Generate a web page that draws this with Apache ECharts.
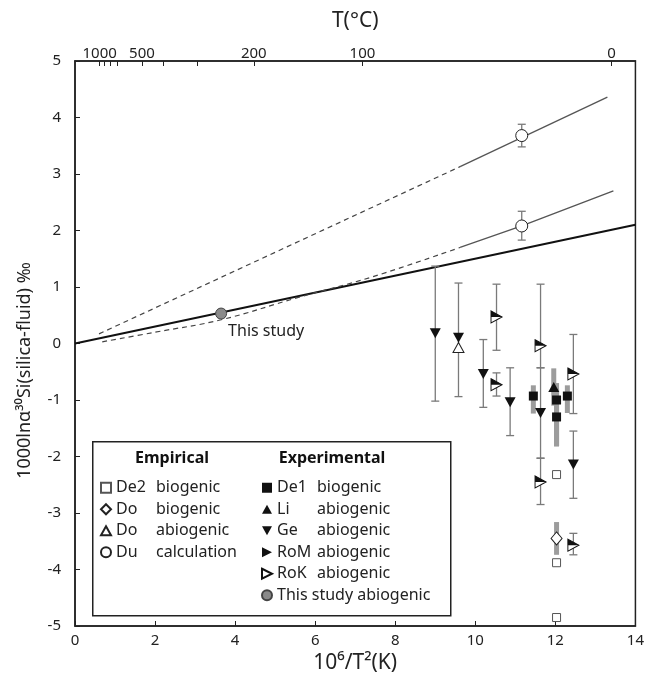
<!DOCTYPE html>
<html>
<head>
<meta charset="utf-8">
<script src="https://cdn.jsdelivr.net/npm/echarts@6/dist/echarts.min.js"></script>
<style>
html,body{margin:0;padding:0;background:#fff;}
#chart{width:647px;height:680px;}
</style>
</head>
<body>
<div id="chart"></div>
<script>
// ---- axis ticks ----
const xTicks = [0, 2, 4, 6, 8, 10, 12, 14];
const yTicks = [-5, -4, -3, -2, -1, 0, 1, 2, 3, 4, 5];
const topTempTicks = [1000, 900, 800, 700, 500, 400, 300, 200, 100, 0];   // °C
const topTempLabels = [1000, 500, 200, 100, 0];                           // °C

// ---- model lines [x, y] ----
const studyLine = [[0, 0], [14, 2.1]];
const upperDashed = [[0.6, 0.17], [9.62, 3.13]];
const upperSolid = [[9.62, 3.13], [13.3, 4.36]];
const lowerDashed = [[0.68, 0.03], [2.0, 0.2], [3.65, 0.42], [5.6, 0.82], [7.43, 1.18], [9.62, 1.7]];
const lowerSolid = [[9.62, 1.7], [11.16, 2.08], [13.45, 2.7]];

// ---- data points [x, y, barTop, barBottom] ----
const de2Bio = [[12.03, -2.32], [12.03, -3.88], [12.03, -4.85]];
const doBio = [[12.03, -3.45, -3.16, -3.74]];
const doAbio = [[9.58, 0.0]];
const duCalc = [[11.16, 3.68, 3.88, 3.48], [11.16, 2.08, 2.34, 1.83]];
const de1Bio = [[11.45, -0.93, -0.74, -1.24], [12.03, -1.0, -0.7, -1.82], [12.03, -1.3, -0.8, -1.82], [12.3, -0.93, -0.74, -1.23]];
const liAbio = [[11.96, -0.77, -0.44, -1.1]];
const geAbio = [[9.0, 0.18, 1.37, -1.02], [9.58, 0.1, 1.07, -0.94], [10.2, -0.54, 0.07, -1.13], [10.87, -1.04, -0.43, -1.63], [11.63, -1.23, -0.43, -2.03], [12.45, -2.14, -1.55, -2.74]];
const roAbio = [[10.53, 0.47, 1.05, -0.12], [10.53, -0.73, -0.52, -0.93], [11.63, -0.04, 1.05, -0.43], [11.63, -2.45, -2.03, -2.85], [12.45, -0.54, 0.16, -1.24], [12.45, -3.57, -3.36, -3.74]];
const thisStudy = [[3.65, 0.53, 0.6, 0.46]];

const FONT = 'Noto Sans';
const toX = t => 1e6 / Math.pow(t + 273.15, 2);

const chart = echarts.init(document.getElementById('chart'), null, {renderer: 'canvas'});

function errRender(capW, color, width) {
  return function (params, api) {
    const x = api.value(0), hi = api.value(2), lo = api.value(3);
    if (isNaN(hi) || isNaN(lo)) return null;
    const p1 = api.coord([x, hi]), p2 = api.coord([x, lo]);
    const ch = [{type: 'line', shape: {x1: p1[0], y1: p1[1], x2: p2[0], y2: p2[1]}, style: {stroke: color, lineWidth: width}}];
    if (capW) {
      ch.push({type: 'line', shape: {x1: p1[0] - capW / 2, y1: p1[1], x2: p1[0] + capW / 2, y2: p1[1]}, style: {stroke: color, lineWidth: width}});
      ch.push({type: 'line', shape: {x1: p2[0] - capW / 2, y1: p2[1], x2: p2[0] + capW / 2, y2: p2[1]}, style: {stroke: color, lineWidth: width}});
    }
    return {type: 'group', children: ch};
  };
}
function errSeries(data, capW, color, width, z) {
  return {type: 'custom', data: data, renderItem: errRender(capW, color, width), encode: {x: 0, y: 1}, z: z, silent: true};
}
function lineSeries(data, color, width, dashed, smooth) {
  return {type: 'line', data: data, showSymbol: false, symbol: 'none', silent: true, smooth: smooth || false, z: 2,
    lineStyle: {color: color, width: width, type: dashed ? [5, 4] : 'solid'}};
}

const RIGHT_TRI = 'path://M0,0L10,5L0,10Z';
const RIGHT_TRI_TOP = 'path://M0,0L10,5L0,5Z';
const DOWN_TRI = 'path://M0,0L10,0L5,9Z';
const UP_TRI = 'path://M5,0L10,9L0,9Z';

const legendFmt = function (name) {
  if (name.indexOf('This study') === 0) return '{c|' + name + '}';
  const i = name.indexOf(' ');
  return '{a|' + name.slice(0, i) + '}{b|' + name.slice(i + 1) + '}';
};
const legendRich = {
  a: {width: 40, fontSize: 16, fontFamily: FONT, color: '#222', lineHeight: 21.5},
  b: {fontSize: 16, fontFamily: FONT, color: '#222', lineHeight: 21.5},
  c: {fontSize: 16, fontFamily: FONT, color: '#222', lineHeight: 21.5}
};

const option = {
  backgroundColor: '#fff',
  animation: false,
  grid: {left: 75, right: 9, top: 61, bottom: 54, show: true, borderColor: '#222', borderWidth: 1.5, backgroundColor: 'transparent'},
  xAxis: [{
    type: 'value', min: xTicks[0], max: xTicks[xTicks.length - 1], interval: 2, position: 'bottom',
    name: '10⁶/T²(K)', nameLocation: 'middle', nameGap: 24,
    nameTextStyle: {fontSize: 21, fontFamily: FONT, color: '#222'},
    axisLine: {show: true, onZero: false, lineStyle: {color: '#222', width: 1.5}},
    axisTick: {show: true, inside: true, length: 5, lineStyle: {color: '#222'}},
    axisLabel: {fontSize: 15, fontFamily: FONT, color: '#222', margin: 7},
    splitLine: {show: false}
  }, {
    type: 'value', min: xTicks[0], max: xTicks[xTicks.length - 1], position: 'top',
    name: 'T(°C)', nameLocation: 'middle', nameGap: 29,
    nameTextStyle: {fontSize: 21, fontFamily: FONT, color: '#222'},
    axisLine: {show: true, onZero: false, lineStyle: {color: '#222', width: 1.5}},
    axisTick: {show: true, inside: true, length: 5, lineStyle: {color: '#222'}, customValues: topTempTicks.map(toX)},
    axisLabel: {fontSize: 15, fontFamily: FONT, color: '#222', margin: 0, customValues: topTempLabels.map(toX),
      formatter: v => String(Math.round((1000 / Math.sqrt(v) - 273.15) / 10) * 10)},
    splitLine: {show: false}
  }],
  yAxis: {
    type: 'value', min: yTicks[0], max: yTicks[yTicks.length - 1], interval: 1,
    name: '1000lnα³⁰Si(silica-fluid) ‰', nameLocation: 'middle', nameGap: 41, nameRotate: 90,
    nameTextStyle: {fontSize: 18, fontFamily: FONT, color: '#222', padding: [0, 54, 0, 0]},
    axisLine: {show: true, onZero: false, lineStyle: {color: '#222', width: 1.5}},
    axisTick: {show: true, inside: true, length: 5, lineStyle: {color: '#222'}},
    axisLabel: {fontSize: 15, fontFamily: FONT, color: '#222', margin: 14},
    splitLine: {show: false}
  },
  legend: [{
    orient: 'vertical', left: 100, top: 477, padding: 0, itemGap: 0, itemWidth: 10, itemHeight: 10,
    data: ['De2 biogenic', 'Do biogenic', 'Do abiogenic', 'Du calculation'],
    formatter: legendFmt, textStyle: {fontSize: 16, fontFamily: FONT, color: '#222', lineHeight: 21.5, rich: legendRich},
    selectedMode: false, z: 10
  }, {
    orient: 'vertical', left: 261, top: 477, padding: 0, itemGap: 0, itemWidth: 10, itemHeight: 10,
    data: ['De1 biogenic', 'Li abiogenic', 'Ge abiogenic', {name: 'RoM abiogenic', icon: RIGHT_TRI}, 'RoK abiogenic', 'This study abiogenic'],
    formatter: legendFmt, textStyle: {fontSize: 16, fontFamily: FONT, color: '#222', lineHeight: 21.5, rich: legendRich},
    selectedMode: false, z: 10
  }],
  graphic: [
    {type: 'rect', left: 92, top: 441, shape: {width: 358, height: 174}, style: {fill: '#fff', stroke: '#222', lineWidth: 1.5}, z: 5},
    {type: 'text', style: {text: 'Empirical', font: 'bold 16px "Noto Sans"', fill: '#111', x: 172, y: 458, align: 'center', verticalAlign: 'middle'}, z: 6},
    {type: 'text', style: {text: 'Experimental', font: 'bold 16px "Noto Sans"', fill: '#111', x: 332, y: 458, align: 'center', verticalAlign: 'middle'}, z: 6}
  ],
  series: [
    lineSeries(studyLine, '#111', 2, false),
    lineSeries(upperDashed, '#444', 1.2, true),
    lineSeries(upperSolid, '#555', 1.3, false),
    lineSeries(lowerDashed, '#444', 1.2, true, 0.4),
    lineSeries(lowerSolid, '#555', 1.3, false),

    // error bars (thin with caps)
    errSeries(geAbio, 8, '#7a7a7a', 1.3, 3),
    errSeries(roAbio, 8, '#7a7a7a', 1.3, 3),
    errSeries(duCalc, 8, '#7a7a7a', 1.3, 3),
    errSeries(thisStudy, 8, '#7a7a7a', 1.3, 3),
    // thick grey bars
    errSeries(de1Bio, 0, '#9c9c9c', 5, 3),
    errSeries(liAbio, 0, '#9c9c9c', 5, 3),
    errSeries(doBio, 0, '#9c9c9c', 5, 3),

    {name: 'De2 biogenic', type: 'scatter', data: de2Bio, symbol: 'rect', symbolSize: 8, z: 6,
      itemStyle: {color: '#fff', borderColor: '#555', borderWidth: 1, opacity: 1}},
    {name: 'Do biogenic', type: 'scatter', data: doBio, symbol: 'diamond', symbolSize: [11, 13], z: 6,
      itemStyle: {color: '#fff', borderColor: '#222', borderWidth: 1, opacity: 1}},
    {name: 'Do abiogenic', type: 'scatter', data: doAbio, symbol: UP_TRI, symbolSize: [11, 10], symbolOffset: [0, 4], z: 6,
      itemStyle: {color: '#fff', borderColor: '#222', borderWidth: 1, opacity: 1}},
    {name: 'Du calculation', type: 'scatter', data: duCalc, symbol: 'circle', symbolSize: 12, z: 6,
      itemStyle: {color: '#fff', borderColor: '#222', borderWidth: 1, opacity: 1}},
    {name: 'De1 biogenic', type: 'scatter', data: de1Bio, symbol: 'rect', symbolSize: 9, z: 6,
      itemStyle: {color: '#111', opacity: 1}},
    {name: 'Li abiogenic', type: 'scatter', data: liAbio, symbol: UP_TRI, symbolSize: [11, 10], z: 6,
      itemStyle: {color: '#111', opacity: 1}},
    {name: 'Ge abiogenic', type: 'scatter', data: geAbio, symbol: DOWN_TRI, symbolSize: [11, 10], z: 6,
      itemStyle: {color: '#111', opacity: 1}},
    {name: 'RoK abiogenic', type: 'scatter', data: roAbio, symbol: RIGHT_TRI, symbolSize: [11, 12], z: 6,
      itemStyle: {color: '#fff', borderColor: '#111', borderWidth: 1, opacity: 1}},
    {name: 'RoM abiogenic', type: 'scatter', data: roAbio, symbol: RIGHT_TRI_TOP, symbolSize: [11, 6], symbolOffset: [0, -3], z: 7,
      itemStyle: {color: '#111', opacity: 1}},
    {name: 'This study abiogenic', type: 'scatter', data: thisStudy, symbol: 'circle', symbolSize: 11, z: 6,
      itemStyle: {color: '#8a8a8a', borderColor: '#444', borderWidth: 1, opacity: 1},
      label: {show: true, formatter: 'This study', position: [13, 16], fontSize: 16, fontFamily: FONT, color: '#222'}}
  ]
};
chart.setOption(option);
</script>
</body>
</html>
